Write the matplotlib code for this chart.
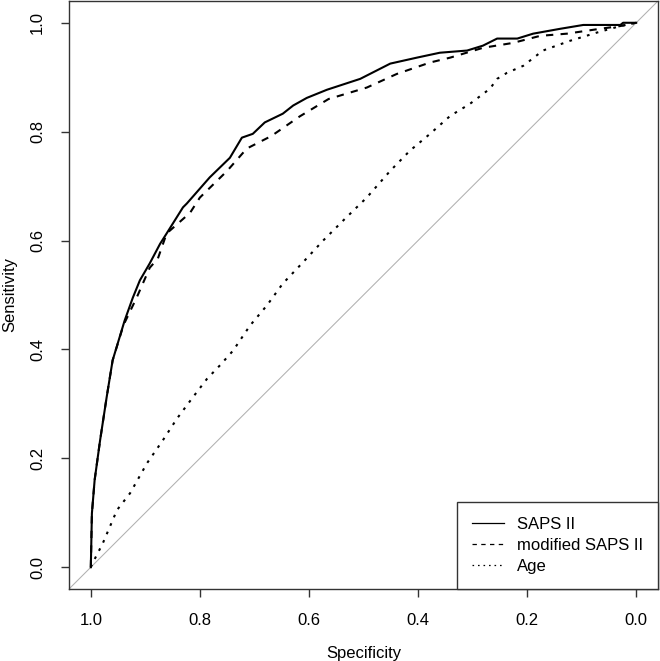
import matplotlib
matplotlib.use("Agg")
import matplotlib.pyplot as plt

plt.rcParams['font.family'] = ['Liberation Sans', 'DejaVu Sans']

# ROC curves (specificity, sensitivity)
saps_spec = [1.000, 0.998, 0.993, 0.983, 0.971, 0.960, 0.938, 0.923, 0.910, 0.892,
             0.873, 0.861, 0.831, 0.824, 0.782, 0.745, 0.723, 0.703, 0.681, 0.648,
             0.629, 0.604, 0.567, 0.506, 0.451, 0.402, 0.360, 0.310, 0.281, 0.255,
             0.218, 0.189, 0.139, 0.097, 0.029, 0.024, 0.000]
saps_sens = [0.000, 0.099, 0.160, 0.233, 0.312, 0.380, 0.453, 0.495, 0.527, 0.558,
             0.594, 0.613, 0.661, 0.668, 0.716, 0.752, 0.789, 0.796, 0.817, 0.833,
             0.848, 0.862, 0.877, 0.897, 0.925, 0.936, 0.945, 0.949, 0.958, 0.971,
             0.971, 0.980, 0.989, 0.996, 0.996, 1.000, 1.000]

mod_spec = [1.000, 0.998, 0.993, 0.983, 0.971, 0.960, 0.940, 0.916, 0.892, 0.877,
            0.861, 0.818, 0.800, 0.750, 0.714, 0.669, 0.617, 0.564, 0.494, 0.439,
            0.378, 0.341, 0.281, 0.226, 0.176, 0.127, 0.066, 0.029, 0.000]
mod_sens = [0.000, 0.099, 0.160, 0.233, 0.312, 0.380, 0.445, 0.495, 0.550, 0.567,
            0.613, 0.651, 0.679, 0.728, 0.769, 0.792, 0.828, 0.860, 0.881, 0.906,
            0.927, 0.936, 0.954, 0.963, 0.976, 0.980, 0.989, 0.994, 1.000]

age_spec = [1.000, 0.996, 0.978, 0.952, 0.928, 0.897, 0.868, 0.842, 0.813, 0.787,
            0.763, 0.739, 0.708, 0.677, 0.648, 0.611, 0.574, 0.534, 0.494, 0.451,
            0.415, 0.378, 0.341, 0.305, 0.268, 0.255, 0.237, 0.207, 0.171, 0.121,
            0.072, 0.029, 0.000]
age_sens = [0.000, 0.009, 0.044, 0.105, 0.136, 0.191, 0.233, 0.273, 0.312, 0.346,
            0.371, 0.398, 0.444, 0.481, 0.521, 0.560, 0.600, 0.640, 0.679, 0.728,
            0.765, 0.796, 0.829, 0.851, 0.879, 0.897, 0.908, 0.921, 0.949, 0.967,
            0.982, 0.994, 1.000]

ticks = [0.0, 0.2, 0.4, 0.6, 0.8, 1.0]

fig = plt.figure(figsize=(6.6, 6.61), dpi=100)
ax = fig.add_axes([69/660, 72/661, 589/660, 588/661])

# chance line
ax.plot([1.04, -0.04], [-0.04, 1.04], color='#b0b0b0', lw=0.75)

lw = 1.5
ax.plot(saps_spec, saps_sens, color='black', lw=lw, label='SAPS II')
ax.plot(mod_spec, mod_sens, color='black', lw=lw, dashes=(3.5, 3.5),
        label='modified SAPS II')
ax.plot(age_spec, age_sens, color='black', lw=lw, dashes=(1.3, 3.1),
        dash_capstyle='butt', label='Age')

ax.set_xlim(1.04, -0.04)
ax.set_ylim(-0.04, 1.04)
ax.set_xticks(ticks)
ax.set_yticks(ticks)
ax.set_xticklabels([f'{t:.1f}' for t in ticks])
ax.set_yticklabels([f'{t:.1f}' for t in ticks])
ax.tick_params(direction='out', length=5.8, width=1.0, labelsize=12, pad=11.5,
               color='#333333')
ax.tick_params(axis='y', labelrotation=90)
for lab in ax.get_yticklabels():
    lab.set_va('center')

for s in ax.spines.values():
    s.set_linewidth(1.0)
    s.set_color('#333333')

ax.set_xlabel('Specificity', fontsize=12, labelpad=13)
ax.set_ylabel('Sensitivity', fontsize=12, labelpad=9)

leg = ax.legend(loc='lower right', bbox_to_anchor=(1, 0), borderaxespad=0,
                fancybox=False, framealpha=1, edgecolor='#333333', fontsize=12,
                handlelength=1.95, handletextpad=0.75, labelspacing=0.36,
                borderpad=0.9)
leg.get_frame().set_linewidth(1.0)
for h in leg.get_lines():
    h.set_linewidth(0.9)

fig.savefig('out.png', dpi=100)
